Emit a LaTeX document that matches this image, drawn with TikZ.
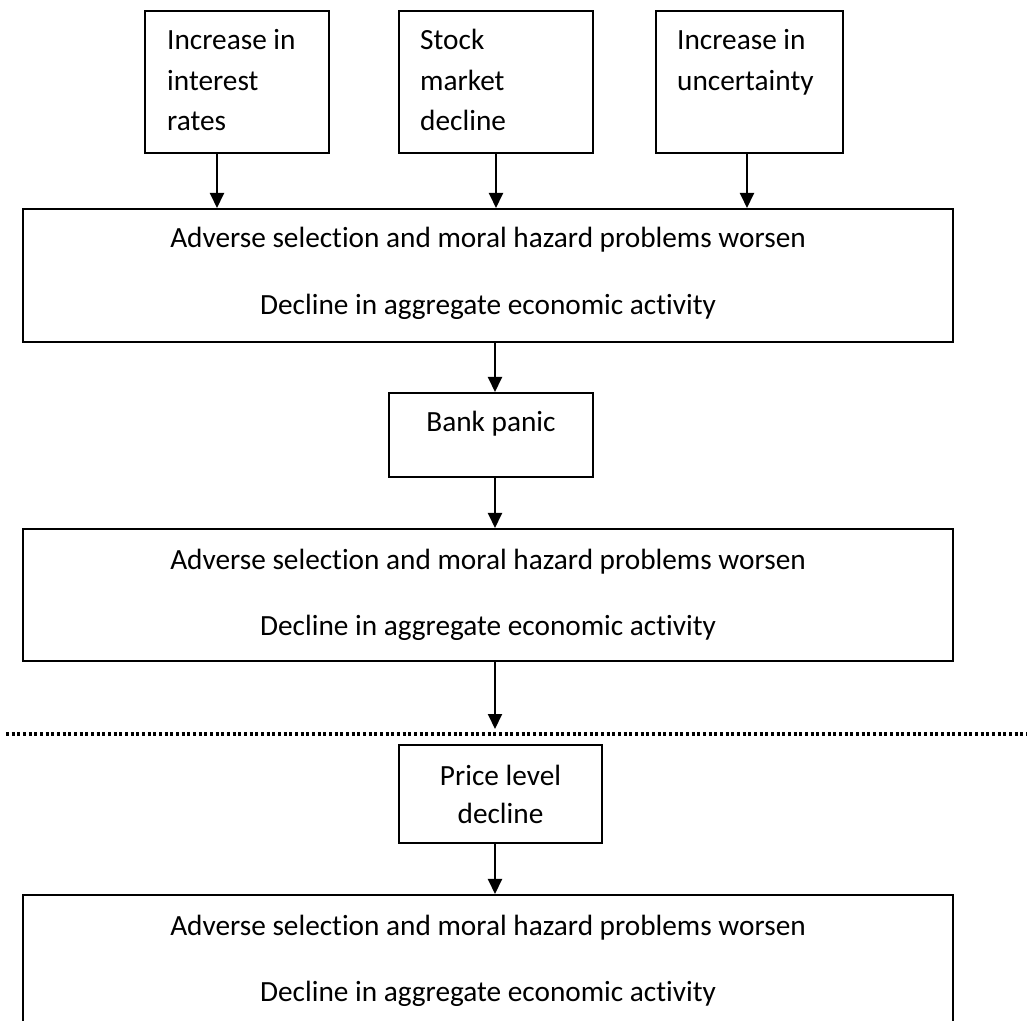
\documentclass[tikz,border=0pt]{standalone}
\usepackage{fontspec}
\setmainfont[Ligatures=NoCommon]{Carlito}
\usetikzlibrary{arrows.meta}
\tikzset{
  box/.style={draw, line width=0.06cm, inner sep=0pt},
  conn/.style={line width=0.06cm, -{Triangle[length=0.45cm,width=0.42cm]}},
  txt/.style={inner sep=0pt, font=\fontsize{25pt}{34.7pt}\selectfont},
  sep/.style={line width=0.1cm, dash pattern=on 0.09cm off 0.08cm}
}
\begin{document}
\begin{tikzpicture}[x=0.03cm, y=-0.03cm]
                    \useasboundingbox (0,0) rectangle (1027,1021);
                    \clip (0,0) rectangle (1027,1021);
                    % Top boxes
                    \node[box, minimum width=5.52cm, minimum height=4.26cm] (rates) at (237,82) {};
                    \node[txt, anchor=base west, text width=5cm, align=flush left] (ratestxt) at (167,49.5) {Increase in\\interest\\rates};
                    \node[box, minimum width=5.82cm, minimum height=4.26cm] (stock) at (496,82) {};
                    \node[txt, anchor=base west, text width=5cm, align=flush left] (stocktxt) at (420,49.5) {Stock\\market\\decline};
                    \node[box, minimum width=5.61cm, minimum height=4.26cm] (uncert) at (749.5,82) {};
                    \node[txt, anchor=base west, text width=5cm, align=flush left] (uncerttxt) at (677,49.5) {Increase in\\uncertainty};
                    % First result box
                    \node[box, minimum width=27.9cm, minimum height=3.99cm] (worsenA) at (488,275.5) {};
                    \node[txt, anchor=base, text width=27cm, align=flush center] (worsenAtxt) at (488,248) {Adverse selection and moral hazard problems worsen\\[22.4pt]Decline in aggregate economic activity};
                    % Bank panic
                    \node[box, minimum width=6.12cm, minimum height=2.52cm] (panic) at (491,435) {};
                    \node[txt, anchor=base] (panictxt) at (491,432) {Bank panic};
                    % Second result box
                    \node[box, minimum width=27.9cm, minimum height=3.96cm] (worsenB) at (488,595) {};
                    \node[txt, anchor=base, text width=27cm, align=flush center] (worsenBtxt) at (488,569) {Adverse selection and moral hazard problems worsen\\[22.4pt]Decline in aggregate economic activity};
                    % Dotted divider
                    \coordinate (divL) at (6,734);
                    \coordinate (divR) at (1027,734);
                    \coordinate (cut) at (495,729);
                    \draw[sep] (divL) -- (divR);
                    % Price level
                    \node[box, minimum width=6.09cm, minimum height=2.94cm] (price) at (500.5,794) {};
                    \node[txt, anchor=base, text width=6cm, align=flush center] (pricetxt) at (500.5,785) {Price level\\[-2pt]decline};
                    % Third result box
                    \node[box, minimum width=27.9cm, minimum height=4.05cm] (worsenC) at (488,962.5) {};
                    \node[txt, anchor=base, text width=27cm, align=flush center] (worsenCtxt) at (488,935) {Adverse selection and moral hazard problems worsen\\[22.4pt]Decline in aggregate economic activity};
                    % Arrows
                    \coordinate (xa) at (217,0);
                    \coordinate (xb) at (496,0);
                    \coordinate (xc) at (747,0);
                    \coordinate (xm) at (495,0);
                    \draw[conn] (rates.south -| xa) -- (worsenA.north -| xa);
                    \draw[conn] (stock.south -| xb) -- (worsenA.north -| xb);
                    \draw[conn] (uncert.south -| xc) -- (worsenA.north -| xc);
                    \draw[conn] (worsenA.south -| xm) -- (panic.north -| xm);
                    \draw[conn] (panic.south -| xm) -- (worsenB.north -| xm);
                    \draw[conn] (worsenB.south -| xm) -- (cut);
                    \draw[conn] (price.south -| xm) -- (worsenC.north -| xm);
                \end{tikzpicture}
\end{document}
